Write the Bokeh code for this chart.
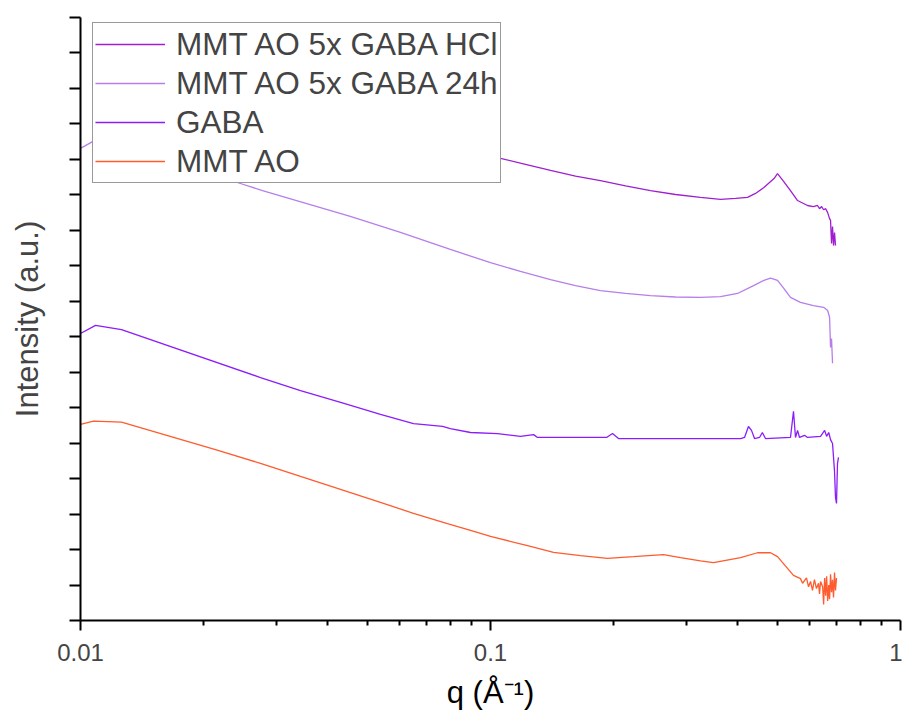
from bokeh.plotting import figure
from bokeh.models import FixedTicker, CustomJSTickFormatter, Legend, LegendItem, Title
from bokeh.embed import file_html
from bokeh.resources import INLINE

# ---- data (q in 1/Angstrom, intensity in arbitrary offset units) ----
q_mmt = [0.01, 0.01076, 0.01259, 0.02134, 0.02748, 0.0344, 0.0539, 0.0649, 0.0785, 0.0894,
         0.1, 0.1231, 0.1425, 0.1658, 0.1928, 0.2233, 0.2642, 0.2907, 0.3252, 0.3499,
         0.4074, 0.4477, 0.4819, 0.5012, 0.5152, 0.5302, 0.5483, 0.5702, 0.5770, 0.5898,
         0.5966, 0.6033, 0.6100, 0.6167, 0.6238, 0.6310, 0.6346, 0.6383, 0.6457, 0.6494,
         0.6531, 0.6569, 0.6604, 0.6643, 0.6683, 0.6714, 0.6751, 0.6789, 0.6827, 0.6865,
         0.6904, 0.6942, 0.6981]
i_mmt = [5.53, 5.62, 5.59, 4.82, 4.43, 4.06, 3.33, 3.02, 2.73, 2.54,
         2.37, 2.11, 1.92, 1.83, 1.75, 1.80, 1.86, 1.77, 1.68, 1.63,
         1.77, 1.91, 1.91, 1.80, 1.64, 1.47, 1.27, 1.18, 1.05, 1.20,
         0.95, 1.10, 0.85, 1.15, 0.90, 1.05, 0.75, 1.10, 0.95, 0.45,
         1.20, 0.70, 1.25, 0.55, 1.00, 0.60, 1.30, 0.80, 1.15, 0.65,
         1.35, 0.85, 1.20]

q_gaba = [0.01, 0.01088, 0.01259, 0.02748, 0.0344, 0.0431, 0.0539, 0.0649, 0.0764, 0.0798,
          0.0894, 0.104, 0.1183, 0.1274, 0.1302, 0.1658, 0.1919, 0.1984, 0.2052, 0.3252,
          0.4074, 0.4165, 0.4257, 0.4331, 0.4405, 0.4530, 0.4603, 0.4685, 0.5391, 0.5483,
          0.5545, 0.5610, 0.5671, 0.5834, 0.5932, 0.6383, 0.6531, 0.6604, 0.6683, 0.6751,
          0.6827, 0.6904, 0.6942, 0.6981, 0.7020, 0.7059]
i_gaba = [8.09, 8.32, 8.20, 6.85, 6.48, 6.15, 5.81, 5.55, 5.47, 5.41,
          5.30, 5.27, 5.19, 5.24, 5.16, 5.16, 5.16, 5.27, 5.13, 5.13,
          5.13, 5.16, 5.47, 5.36, 5.13, 5.16, 5.30, 5.13, 5.16, 5.90,
          5.16, 5.36, 5.16, 5.22, 5.16, 5.19, 5.36, 5.19, 5.30, 5.10,
          4.99, 4.20, 3.47, 3.30, 4.43, 4.60]

q_24h = [0.01, 0.01070, 0.01259, 0.02455, 0.02779, 0.0455, 0.0603, 0.0798, 0.1, 0.1183,
         0.1401, 0.1612, 0.1854, 0.2135, 0.2456, 0.2827, 0.3252, 0.3639, 0.4005, 0.4381,
         0.4644, 0.4819, 0.5012, 0.5170, 0.5391, 0.5702, 0.6131, 0.6494, 0.6643, 0.6714,
         0.6751, 0.6789, 0.6827]
i_24h = [13.31, 13.50, 13.40, 12.32, 12.12, 11.39, 10.94, 10.46, 10.09, 9.84,
         9.61, 9.44, 9.30, 9.22, 9.16, 9.12, 9.11, 9.13, 9.22, 9.44,
         9.59, 9.65, 9.59, 9.39, 9.11, 8.97, 8.88, 8.83, 8.74, 8.55,
         7.70, 7.95, 7.25]

q_hcl = [0.01151, 0.01259, 0.0344, 0.0603, 0.104, 0.1217, 0.1401, 0.1612, 0.1854, 0.2135,
         0.2456, 0.2827, 0.3252, 0.3639, 0.3960, 0.4236, 0.4430, 0.4644, 0.4915, 0.5012,
         0.5170, 0.5391, 0.5610, 0.5932, 0.6131, 0.6274, 0.6346, 0.6420, 0.6494, 0.6569,
         0.6643, 0.6714, 0.6751, 0.6789, 0.6827, 0.6865, 0.6904, 0.6942]
i_hcl = [15.79, 15.73, 14.38, 13.67, 13.05, 12.86, 12.69, 12.53, 12.40, 12.25,
         12.12, 12.01, 11.93, 11.87, 11.90, 11.93, 12.04, 12.21, 12.46, 12.60,
         12.40, 12.12, 11.84, 11.70, 11.67, 11.70, 11.61, 11.67, 11.58, 11.61,
         11.50, 11.33, 11.28, 10.63, 11.11, 10.57, 10.94, 10.57]

labels = ["MMT AO 5x GABA HCl", "MMT AO 5x GABA 24h", "GABA", "MMT AO"]
colors = ["#9F1FD0", "#B77EEA", "#8C1CFA", "#FF5B2E"]

y_ticks = list(range(0, 18))
x_major = [0.01, 0.1, 1]
x_minor = [0.02, 0.03, 0.04, 0.05, 0.06, 0.07, 0.08, 0.09,
           0.2, 0.3, 0.4, 0.5, 0.6, 0.7, 0.8, 0.9]

FONT = "Liberation Sans"

p = figure(width=902, height=718, x_axis_type="log", x_range=(0.01, 1), y_range=(0, 17),
           output_backend="svg", toolbar_location=None,
           min_border_left=80, min_border_right=2, min_border_top=17, min_border_bottom=98)
p.outline_line_color = None
p.xgrid.visible = False
p.ygrid.visible = False

series = [(q_hcl, i_hcl), (q_24h, i_24h), (q_gaba, i_gaba), (q_mmt, i_mmt)]
renderers = []
for (qq, ii), c in zip(series, colors):
    renderers.append(p.line(qq, ii, line_color=c, line_width=1.3))

# x axis
xa = p.xaxis[0]
xa.ticker = FixedTicker(ticks=x_major, minor_ticks=x_minor)
xa.formatter = CustomJSTickFormatter(code="return tick >= 1 ? tick.toFixed(0) : String(parseFloat(tick.toPrecision(2)));")
xa.major_label_text_font = FONT
xa.major_label_text_font_size = "24px"
xa.major_label_standoff = 13
xa.axis_line_width = 2
xa.major_tick_line_width = 2
xa.minor_tick_line_width = 2
xa.major_tick_out = 10
xa.major_tick_in = 0
xa.minor_tick_out = 5
xa.minor_tick_in = 0

# x axis title as a title in the panel below the axis
p.add_layout(Title(text="q (Å⁻¹)", align="center", text_font=FONT, text_font_size="31px",
                   text_font_style="normal", text_color="black", standoff=18,
                   text_line_height=0.7), "below")

# y axis (ticks without labels)
ya = p.yaxis[0]
ya.ticker = FixedTicker(ticks=y_ticks, minor_ticks=[])
ya.formatter = CustomJSTickFormatter(code="return '';")
ya.major_label_standoff = 0
ya.axis_label = "Intensity (a.u.)"
ya.axis_label_text_font = FONT
ya.axis_label_text_font_style = "normal"
ya.axis_label_text_font_size = "31px"
ya.axis_label_standoff = 25
ya.axis_line_width = 2
ya.major_tick_line_width = 2
ya.major_tick_out = 11
ya.major_tick_in = 0
ya.minor_tick_out = 0
ya.minor_tick_in = 0

legend = Legend(items=[LegendItem(label=l, renderers=[r]) for l, r in zip(labels, renderers)],
                location=(12, 437))
legend.label_text_font = FONT
legend.label_text_font_size = "31.5px"
legend.glyph_width = 70
legend.glyph_height = 38
legend.label_height = 38
legend.label_standoff = 11
legend.spacing = 1
legend.padding = 2
legend.margin = 0
legend.border_line_color = "#333333"
legend.border_line_width = 1
legend.background_fill_alpha = 1.0
p.add_layout(legend)

open("out.html", "w").write(file_html(p, INLINE))
